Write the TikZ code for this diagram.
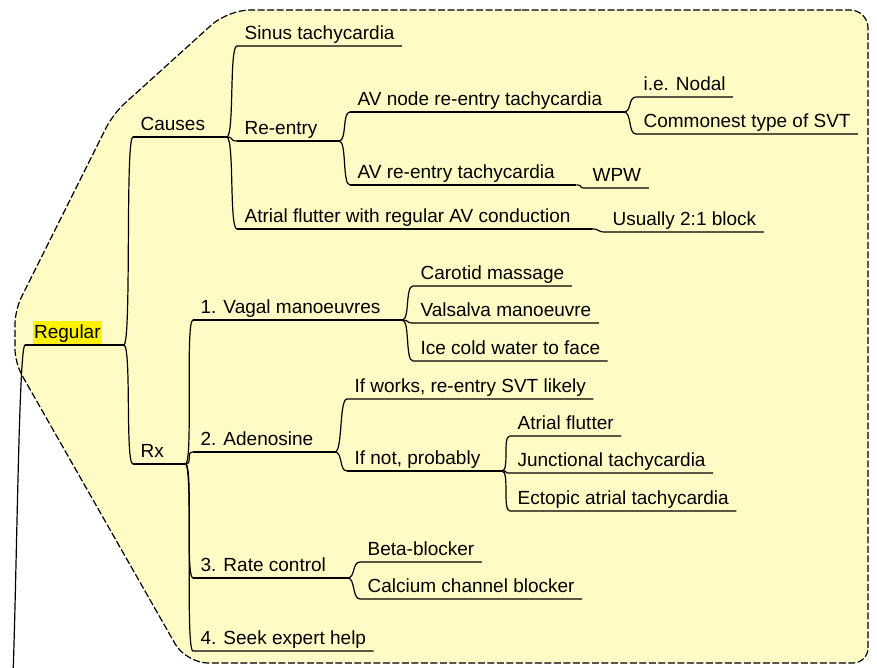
\documentclass[tikz,border=0pt]{standalone}
\usepackage{fontspec}
\setmainfont{Liberation Sans}
\usepackage{tikz}
\usepackage{color}

\definecolor{paleyellow}{RGB}{255,251,197}
\newcommand{\hilite}[1]{{\setlength{\fboxsep}{1.5pt}\colorbox{yellow}{\rule[-1.5pt]{0pt}{17.5pt}#1}}}

\tikzset{
    topic/.style={anchor=south west, inner xsep=7pt, inner ysep=5.5pt, text depth=0pt},
    twig/.style={to path={.. controls +(8,0) and +(-8,0) .. (\tikztotarget.south west) -- (\tikztotarget.south east)}},
    boundary/.style={draw, fill=paleyellow, dash pattern=on 7pt off 2.5pt},
}

\begin{document}
\begin{tikzpicture}[x=1pt, y=-1pt, line width=1.2pt, font=\fontsize{19}{22}\selectfont]
    \clip (0,0) rectangle (877,668);

    % branch boundary
    \path[boundary] (500,10) [rounded corners=18pt] -- (868,10) [rounded corners=15pt] -- (868,663)
        [rounded corners=22pt] -- (186,663) [rounded corners=14pt] -- (15,363) -- (15,310)
        [rounded corners=15pt] -- (113,114) [rounded corners=22pt] -- (228,10) -- cycle;

    \node[topic] (reg) at (25,345) {\hilite{Regular}};
    \node[topic] (causes) at (133,137) {Causes};
    \node[topic] (rx) at (133,464) {Rx};

    \node[topic] (sinus) at (237,46) {Sinus tachycardia};
    \node[topic] (reentry) at (237,141) {Re-entry};
    \node[topic] (flutter) at (237,229) {Atrial flutter with regular AV conduction};
    \node[topic] (avnrt) at (350,112) {AV node re-entry tachycardia};
    \node[topic] (avrt) at (350,185) {AV re-entry tachycardia};
    \node[topic] (nodal) at (636,97) {i.e. Nodal};
    \node[topic] (commonest) at (636,134) {Commonest type of SVT};
    \node[topic] (wpw) at (585,188) {WPW};
    \node[topic] (usually) at (605,232) {Usually 2:1 block};

    \node[topic] (vagal) at (193,320) {1. Vagal manoeuvres};
    \node[topic] (adenosine) at (193,452) {2. Adenosine};
    \node[topic] (rate) at (193,578) {3. Rate control};
    \node[topic] (seek) at (193,651) {4. Seek expert help};
    \node[topic] (carotid) at (413,286) {Carotid massage};
    \node[topic] (valsalva) at (413,323) {Valsalva manoeuvre};
    \node[topic] (icecold) at (413,361) {Ice cold water to face};
    \node[topic] (ifworks) at (347,399) {If works, re-entry SVT likely};
    \node[topic] (ifnot) at (347,471) {If not, probably};
    \node[topic] (aflutter) at (510,436) {Atrial flutter};
    \node[topic] (junctional) at (510,473) {Junctional tachycardia};
    \node[topic] (ectopic) at (510,511) {Ectopic atrial tachycardia};
    \node[topic] (beta) at (360,562) {Beta-blocker};
    \node[topic] (calcium) at (360,599) {Calcium channel blocker};

    % underlines of topics with subtopics run on a little
    \foreach \n in {reg,causes,rx,reentry,flutter,avnrt,avrt,vagal,adenosine,rate,ifnot}
        \draw (\n.south west) -- ([xshift=14pt]\n.south east) coordinate (\n-end);

    \coordinate (stem) at (8,740);
    \draw (stem) to[twig] (reg);
    \foreach \a/\b in {reg/causes, reg/rx, causes/sinus, causes/reentry, causes/flutter,
        reentry/avnrt, reentry/avrt, avnrt/nodal, avnrt/commonest, avrt/wpw, flutter/usually,
        rx/vagal, rx/adenosine, rx/rate, rx/seek, vagal/carotid, vagal/valsalva, vagal/icecold,
        adenosine/ifworks, adenosine/ifnot, ifnot/aflutter, ifnot/junctional, ifnot/ectopic,
        rate/beta, rate/calcium}
        \draw (\a-end) to[twig] (\b);
\end{tikzpicture}
\end{document}
